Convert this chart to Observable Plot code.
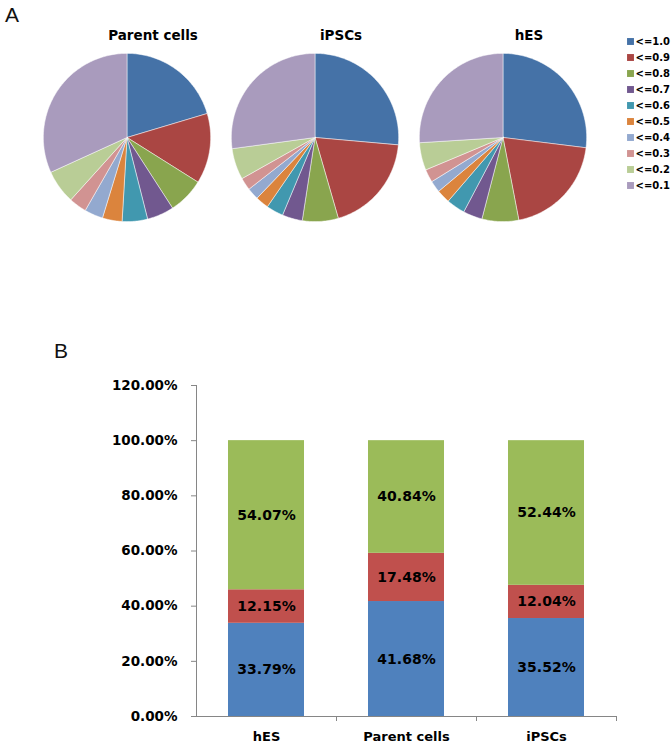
<!DOCTYPE html>
<html><head><meta charset="utf-8">
<script src="https://cdn.jsdelivr.net/npm/d3@7"></script>
<script src="https://cdn.jsdelivr.net/npm/@observablehq/plot@0.6"></script>
<style>
html,body{margin:0;padding:0;background:#fff;}
#wrap{position:relative;width:672px;height:749px;overflow:hidden;font-family:"DejaVu Sans",sans-serif;}
.panel{position:absolute;font-family:"Liberation Sans",sans-serif;font-size:21px;line-height:21px;color:#111;}
#pies{position:absolute;left:0;top:0;}
#legend{position:absolute;left:620px;top:28px;}
#bars{position:absolute;left:0;top:370px;}
</style></head><body>
<div id="wrap">
<div class="panel" style="left:5px;top:4px">A</div>
<div class="panel" style="left:54px;top:340px">B</div>
<div id="pies"></div><div id="legend"></div><div id="bars"></div>
</div>
<script>
// ---- Panel A data (pie shares, %) ----
const pieGroups = ["Parent cells", "iPSCs", "hES"];
const classes = ["<=1.0", "<=0.9", "<=0.8", "<=0.7", "<=0.6", "<=0.5", "<=0.4", "<=0.3", "<=0.2", "<=0.1"];
const parentShares = [20.4, 13.5, 6.94, 5.2, 4.9, 3.8, 3.58, 3.4, 6.5, 31.78];
const ipscShares   = [26.4, 19.1, 6.94, 3.9, 3.3, 2.55, 2.29, 2.4, 6.0, 27.12];
const hesShares    = [26.95, 20.02, 7.1, 3.7, 3.6, 2.6, 2.25, 2.5, 5.3, 25.99];
const pieColors = ["#4572A7", "#AA4643", "#89A54E", "#71588F", "#4198AF", "#DB843D", "#93A9CF", "#D19392", "#B9CD96", "#A99BBD"];

// ---- Panel B data (stacked %, bottom to top) ----
const barCategories = ["hES", "Parent cells", "iPSCs"];
const lowShare  = [33.79, 41.68, 35.52];
const midShare  = [12.15, 17.48, 12.04];
const highShare = [54.07, 40.84, 52.44];
const barBands = ["low", "mid", "high"];
const barColors = ["#4F81BD", "#C0504D", "#9BBB59"];
const yTicks = [0, 20, 40, 60, 80, 100, 120];

// ---- build pie slice polygons from shares ----
const sharesByGroup = {"Parent cells": parentShares, "iPSCs": ipscShares, "hES": hesShares};
const pieGen = d3.pie().sort(null).value(d => d.v);
const slices = [];
for (const g of pieGroups) {
  const arcs = pieGen(classes.map((c, i) => ({c, v: sharesByGroup[g][i]})));
  for (const a of arcs) {
    const pts = [{x: 0, y: 0}];
    const n = Math.max(2, Math.ceil((a.endAngle - a.startAngle) / (Math.PI / 180)));
    for (let k = 0; k <= n; k++) {
      const t = a.startAngle + (a.endAngle - a.startAngle) * k / n;
      pts.push({x: Math.sin(t), y: Math.cos(t)});
    }
    pts.push({x: 0, y: 0});
    for (const p of pts) slices.push({group: g, cls: a.data.c, x: p.x, y: p.y});
  }
}

const piePlot = Plot.plot({
  width: 672, height: 227, marginTop: 47, marginBottom: 0, marginLeft: 36, marginRight: 78,
  fx: {domain: pieGroups, paddingInner: 0.0476, paddingOuter: 0, axis: null, label: null},
  x: {domain: [-1.07, 1.07], axis: null},
  y: {domain: [-1.07, 1.07], axis: null},
  color: {domain: classes, range: pieColors},
  style: {fontFamily: "DejaVu Sans, sans-serif", background: "transparent", color: "#000"},
  marks: [
    Plot.line(slices, {fx: "group", x: "x", y: "y", z: "cls", fill: "cls", stroke: "#fff", strokeWidth: 0.6, strokeOpacity: 0.8}),
    Plot.text(pieGroups, {fx: d => d, text: d => d, frameAnchor: "top", dx: 26, dy: -17, fontWeight: "bold", fontSize: 13.5, letterSpacing: "-0.4px", fill: "#000"})
  ]
});
document.getElementById("pies").appendChild(piePlot);

const legendPlot = Plot.plot({
  width: 52, height: 170, margin: 0,
  y: {type: "point", domain: classes, range: [9, 160], padding: 0, axis: null},
  color: {domain: classes, range: pieColors},
  style: {fontFamily: "DejaVu Sans, sans-serif", background: "transparent", color: "#000"},
  marks: [
    Plot.dot(classes, {y: d => d, frameAnchor: "left", dx: 10, symbol: "square", r: 3.9, fill: d => d}),
    Plot.text(classes, {y: d => d, frameAnchor: "left", dx: 15, textAnchor: "start", text: d => d, fontWeight: "bold", fontSize: 10, letterSpacing: "-0.3px", fill: "#000"})
  ]
});
document.getElementById("legend").appendChild(legendPlot);

// ---- bar chart ----
const barRows = [];
barCategories.forEach((c, i) => {
  barRows.push({cat: c, band: "low", v: lowShare[i]});
  barRows.push({cat: c, band: "mid", v: midShare[i]});
  barRows.push({cat: c, band: "high", v: highShare[i]});
});
const W = 672, mL = 196, mR = 56, mT = 15, mB = 33, H = 379;
const step = (W - mL - mR) / barCategories.length;
const pxPerUnit = (H - mT - mB) / 120;

const barPlot = Plot.plot({
  width: W, height: H, marginTop: mT, marginBottom: mB, marginLeft: mL, marginRight: mR,
  x: {domain: barCategories, paddingInner: 0.46, paddingOuter: 0.23},
  y: {domain: [0, 120]},
  color: {domain: barBands, range: barColors},
  style: {fontFamily: "DejaVu Sans, sans-serif", background: "transparent", color: "#000"},
  marks: [
    Plot.barY(barRows, Plot.stackY({x: "cat", y: "v", fill: "band"})),
    Plot.text(barRows, Plot.stackY({x: "cat", y: "v", text: d => d.v.toFixed(2) + "%", fontWeight: "bold", fontSize: 14, fill: "#000"})),
    Plot.ruleY([0], {stroke: "#868686"}),
    Plot.ruleX([barCategories[0]], {dx: -step / 2, y1: 0, y2: 120, stroke: "#868686"}),
    Plot.ruleX(barCategories, {dx: step / 2, y1: 0, y2: -5 / pxPerUnit, stroke: "#868686"}),
    Plot.axisY({ticks: yTicks, tickFormat: d => d.toFixed(2) + "%", tickSize: 5, tickPadding: 14, stroke: "#868686", fill: "#000", fontWeight: "bold", fontSize: 13.5, label: null}),
    Plot.axisX({tickSize: 0, tickPadding: 15, fontWeight: "bold", fontSize: 13, fill: "#000", label: null})
  ]
});
document.getElementById("bars").appendChild(barPlot);
</script>
</body></html>
